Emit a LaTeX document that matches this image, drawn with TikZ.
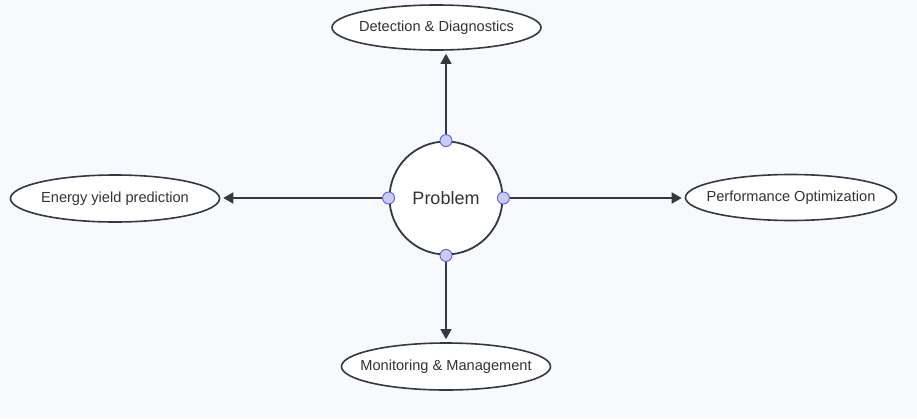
\documentclass[tikz,border=0pt]{standalone}
\usepackage{fontspec}
\setmainfont{Liberation Sans}
\usetikzlibrary{shapes.geometric,arrows.meta}
\definecolor{bg}{HTML}{F8F9FC}
\definecolor{ln}{HTML}{333943}
\definecolor{tx}{HTML}{333333}
\definecolor{dotfill}{HTML}{C9CCF9}
\definecolor{dotline}{HTML}{5B5BE0}
\tikzset{
  topic/.style={ellipse, draw=ln, line width=1.6pt, fill=white, text=tx, font=\fontsize{14.6}{16}\selectfont, inner xsep=-80pt, inner ysep=-20pt},
  hub/.style={circle, draw=ln, line width=1.8pt, fill=white, text=tx, minimum size=113pt, inner sep=0pt, font=\fontsize{18}{20}\selectfont},
  port/.style={circle, draw=dotline, line width=0.9pt, fill=dotfill, minimum size=12pt, inner sep=0pt},
  conn/.style={draw=ln, line width=1.6pt, -{Triangle[length=10pt,width=11pt]}, shorten >=3pt}
}
\begin{document}
\begin{tikzpicture}[x=1pt,y=-1pt]
\fill[bg] (0,0) rectangle (917,418);
\useasboundingbox (0,0) rectangle (917,418);
\node[hub] (p) at (446,198) {Problem};
\node[topic, minimum width=209pt, minimum height=45pt] (d) at (436.5,27.5) {Detection \& Diagnostics};
\node[topic, minimum width=209pt, minimum height=47pt] (e) at (115,198.5) {Energy yield prediction};
\node[topic, minimum width=211pt, minimum height=46pt] (o) at (791,197.5) {Performance Optimization};
\node[topic, minimum width=209pt, minimum height=47pt] (m) at (446,366.5) {Monitoring \& Management};
\draw[conn] (p.north) -- (d.south -| p.north);
\draw[conn] (p.west) -- (e.east |- p.west);
\draw[conn] (p.east) -- (o.west |- p.east);
\draw[conn] (p.south) -- (m.north -| p.south);
\node[port] (pn) at (p.north) {};
\node[port] (ps) at (p.south) {};
\node[port] (pw) at (p.west) {};
\node[port] (pe) at (p.east) {};
\end{tikzpicture}
\end{document}
